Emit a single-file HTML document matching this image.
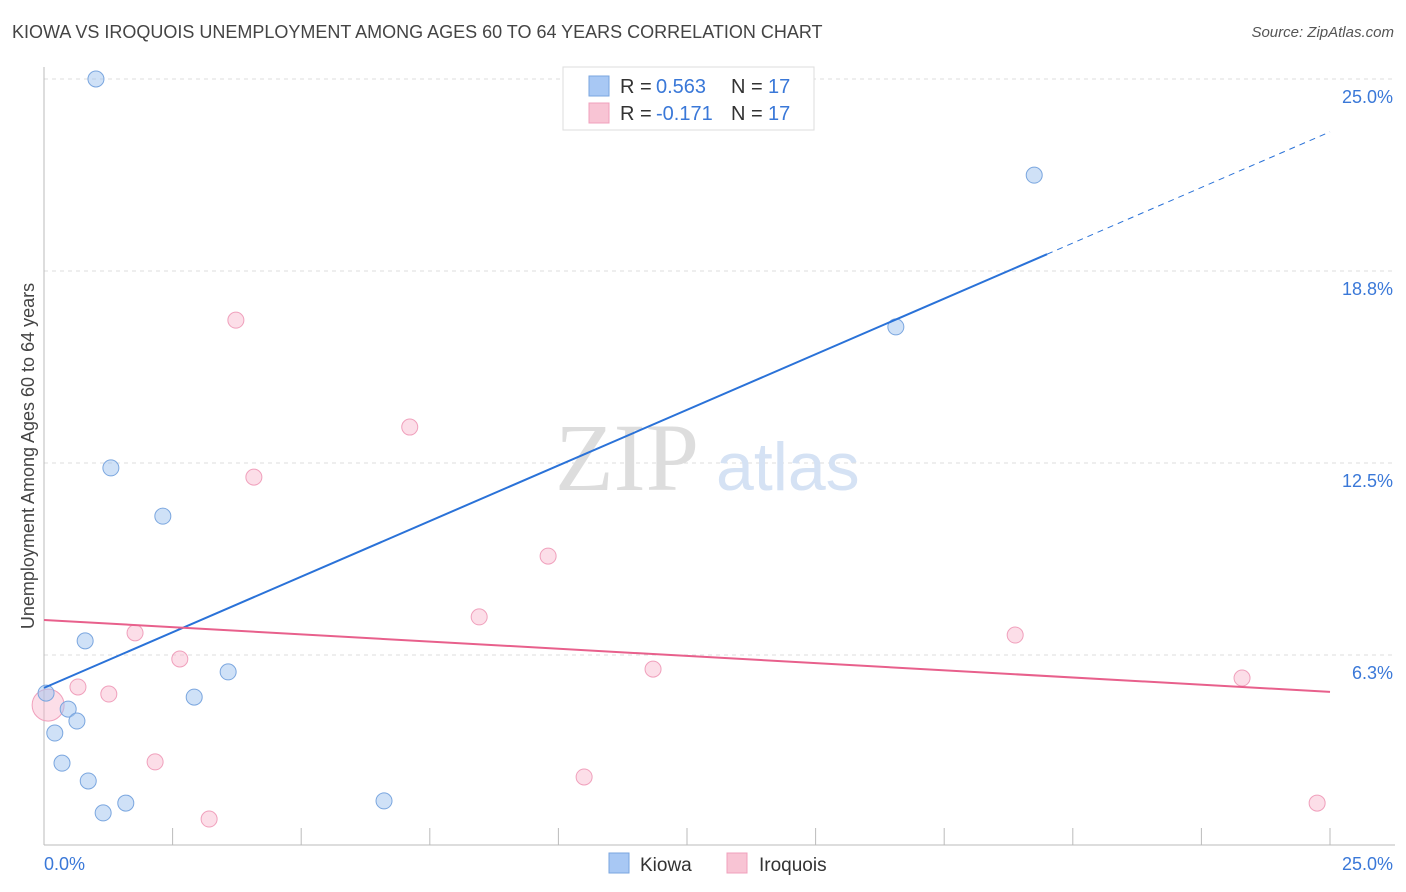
<!DOCTYPE html>
<html><head><meta charset="utf-8"><style>
body{margin:0;background:#fff;font-family:"Liberation Sans",sans-serif;}
#wrap{position:relative;width:1406px;height:892px;overflow:hidden}
.t{position:absolute;white-space:nowrap}
</style></head><body><div id="wrap">
<div class="t" style="left:12px;top:22px;font-size:18px;color:#444">KIOWA VS IROQUOIS UNEMPLOYMENT AMONG AGES 60 TO 64 YEARS CORRELATION CHART</div>
<div class="t" style="right:12px;top:24px;font-size:15px;color:#555;font-style:italic">Source: ZipAtlas.com</div>
<svg id="svg" width="1406" height="892" style="position:absolute;left:0;top:0"></svg>
</div>
<script>
const kiowaX=[1.01,19.25,16.56,1.30,2.31,0.80,3.58,0.04,2.92,0.47,0.64,0.21,0.35,0.86,1.59,1.15,6.61];
const kiowaY=[25.0,21.87,16.93,12.34,10.77,6.71,5.70,5.01,4.88,4.49,4.10,3.71,2.73,2.15,1.43,1.11,1.50];
const iroX=[3.73,7.11,4.08,9.80,8.46,1.77,18.88,2.64,11.84,0.66,1.26,23.29,2.16,10.50,3.21,24.75,0.08];
const iroY=[17.15,13.67,12.04,9.47,7.49,6.97,6.90,6.12,5.79,5.21,4.98,5.50,2.77,2.28,0.91,1.43,4.62];
const kiowaTrend=[5.18,23.28];
const iroTrend=[7.39,5.05];
const yTicks=[25.0,18.8,12.5,6.3];
const yTickLabels=["25.0%","18.8%","12.5%","6.3%"];
const X=v=>44+v/25*1286, Y=v=>847-v*30.72;
const NS="http://www.w3.org/2000/svg", svg=document.getElementById('svg');
function mk(t,a,name){const e=document.createElementNS(NS,t);for(const k in a)e.setAttribute(k,a[k]);


svg.appendChild(e);return e;}
yTicks.forEach((v,i)=>{const y=[79,271,463,655][i];
mk('line',{x1:44,x2:1395,y1:y,y2:y,stroke:'#ddd','stroke-dasharray':'4,4'},'grid-line');
const t=mk('text',{x:1393,y:y+24,'text-anchor':'end','font-size':18,fill:'#3a78d8'},'y-tick-label');t.textContent=yTickLabels[i];});
mk('line',{x1:44,x2:44,y1:67,y2:845,stroke:'#bbb'},'y-axis');
mk('line',{x1:44,x2:1395,y1:845,y2:845,stroke:'#bbb'},'x-axis');
for(let i=0;i<=10;i++){const x=X(i*2.5);mk('line',{x1:x,x2:x,y1:828,y2:845,stroke:'#bbb'},'x-tick');}
let t=mk('text',{x:44,y:870,'font-size':18,fill:'#3a78d8'},'x-label-min');t.textContent='0.0%';
t=mk('text',{x:1393,y:870,'text-anchor':'end','font-size':18,fill:'#3a78d8'},'x-label-max');t.textContent='25.0%';
t=mk('text',{x:0,y:0,'font-size':18,fill:'#444',transform:'translate(34,456) rotate(-90)','text-anchor':'middle'},'y-axis-title');t.textContent='Unemployment Among Ages 60 to 64 years';
t=mk('text',{x:555,y:490,'font-size':96,fill:'#ddd','font-family':'Liberation Serif'},'watermark-zip');t.textContent='ZIP';
t=mk('text',{x:716,y:490,'font-size':68,fill:'#d5e2f4'},'watermark-atlas');t.textContent='atlas';
iroX.forEach((v,i)=>{const big=i==iroX.length-1;mk('circle',{cx:X(v),cy:Y(iroY[i]),r:big?16:8,fill:'rgba(248,182,204,0.45)',stroke:'#f0a0bc','stroke-width':1},'iroquois-point');});
kiowaX.forEach((v,i)=>mk('circle',{cx:X(v),cy:Y(kiowaY[i]),r:8,fill:'rgba(160,196,240,0.5)',stroke:'#7aa6df','stroke-width':1},'kiowa-point'));
const xs=19.5;const ym=kiowaTrend[0]+(kiowaTrend[1]-kiowaTrend[0])*xs/25;
mk('line',{x1:X(0),y1:Y(kiowaTrend[0]),x2:X(xs),y2:Y(ym),stroke:'#2a72d8','stroke-width':2},'kiowa-trendline');
mk('line',{x1:X(xs),y1:Y(ym),x2:X(25),y2:Y(kiowaTrend[1]),stroke:'#2a72d8','stroke-width':1,'stroke-dasharray':'6,5'},'kiowa-trendline-extension');
mk('line',{x1:X(0),y1:Y(iroTrend[0]),x2:X(25),y2:Y(iroTrend[1]),stroke:'#e8608c','stroke-width':2},'iroquois-trendline');
mk('rect',{x:563,y:67,width:251,height:63,fill:'#fff',stroke:'#ddd'},'legend-box');
[['#a8c8f4','#7aa6df','0.563',86],['#f8c4d4','#f0a0bc','-0.171',113]].forEach((r,i)=>{
mk('rect',{x:589,y:r[3]-10,width:20,height:20,fill:r[0],stroke:r[1]},'legend-swatch');
let a=mk('text',{x:620,y:r[3]+7,'font-size':20,fill:'#333'},'legend-r-label');a.textContent='R = ';
a=mk('text',{x:656,y:r[3]+7,'font-size':20,fill:'#3a78d8'},'legend-r-value');a.textContent=r[2];
a=mk('text',{x:731,y:r[3]+7,'font-size':20,fill:'#333'},'legend-n-label');a.textContent='N = ';
a=mk('text',{x:768,y:r[3]+7,'font-size':20,fill:'#3a78d8'},'legend-n-value');a.textContent='17';});
mk('rect',{x:609,y:853,width:20,height:20,fill:'#a8c8f4',stroke:'#7aa6df'},'bottom-legend-kiowa-swatch');
t=mk('text',{x:640,y:871,'font-size':19,fill:'#333'},'bottom-legend-kiowa');t.textContent='Kiowa';
mk('rect',{x:727,y:853,width:20,height:20,fill:'#f8c4d4',stroke:'#f0a0bc'},'bottom-legend-iroquois-swatch');
t=mk('text',{x:759,y:871,'font-size':19,fill:'#333'},'bottom-legend-iroquois');t.textContent='Iroquois';
</script></body></html>
